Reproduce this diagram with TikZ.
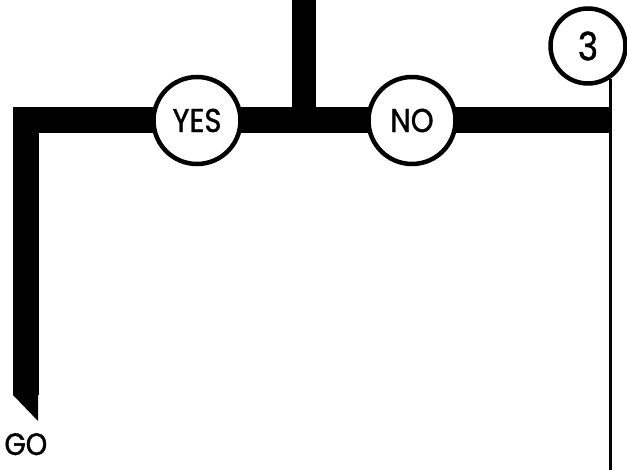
\documentclass[tikz,border=0pt]{standalone}
\usepackage{fontspec}
\setmainfont{Poppins}[FakeStretch=0.88, FakeBold=1.2]
\usetikzlibrary{calc, backgrounds}

\begin{document}
\begin{tikzpicture}[x=1pt, y=-1pt, every node/.style={font=\fontsize{33}{35}\selectfont},
    choice/.style={draw, circle, fill=white, line width=4.5pt, minimum size=87pt, inner sep=0pt},
    bar/.style={line width=26pt},
    wire/.style={line width=3pt}]
  \useasboundingbox (0,0) rectangle (627,470);
  \node[choice] (yes) at (197,120.5) {YES};
  \node[choice] (no) at (412,120.5) {NO};
  \node[choice, minimum size=75pt, font=\fontsize{39}{41}\selectfont] (three) at (588,46) {3};
  \node[anchor=base west, font=\fontsize{31}{33}\selectfont] (go) at (1,455) {GO};
  \coordinate (leftend) at (25.5,395);
  \coordinate (top) at (303.5,0);
  \coordinate (rail) at ($(three.-56)!(no)!($(three.-56)+(0,10)$)$);
  \coordinate (railend) at ($(three.-56)+(0,500)$);
  \begin{scope}[on background layer]
    \draw[bar] (yes.center) -| (leftend);
    \fill ($(leftend)+(-12.5,0)$) -- ($(leftend)+(12.5,0)$) -- ($(leftend)+(12.5,26)$) -- cycle;
    \draw[bar] (yes.center) -- (no.center);
    \draw[bar, line width=24pt] (top) -- (top |- yes);
    \draw[bar] (no.center) -- (rail);
    \draw[wire] (three.-56) -- (railend);
  \end{scope}
\end{tikzpicture}
\end{document}
